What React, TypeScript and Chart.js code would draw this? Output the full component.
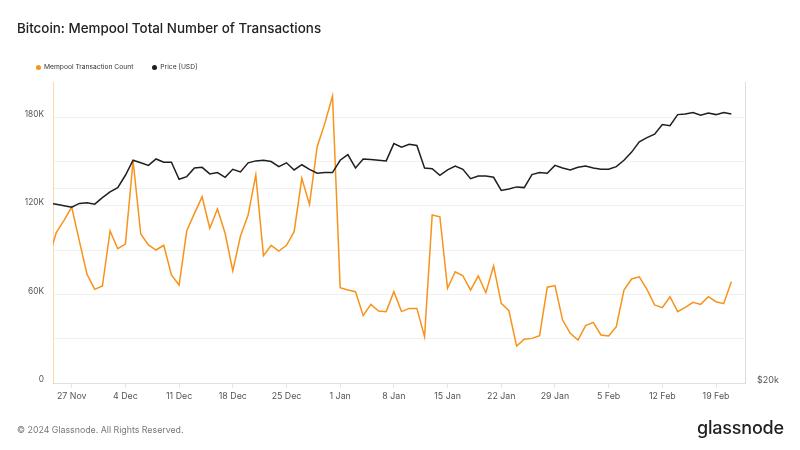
import React, { useEffect, useRef } from "react";
import { Chart, registerables } from "chart.js";

Chart.register(...registerables);

const dates: string[] = [
  "2023-11-24", "2023-11-25", "2023-11-26", "2023-11-27", "2023-11-28", "2023-11-29", "2023-11-30",
  "2023-12-01", "2023-12-02", "2023-12-03", "2023-12-04", "2023-12-05", "2023-12-06", "2023-12-07",
  "2023-12-08", "2023-12-09", "2023-12-10", "2023-12-11", "2023-12-12", "2023-12-13", "2023-12-14",
  "2023-12-15", "2023-12-16", "2023-12-17", "2023-12-18", "2023-12-19", "2023-12-20", "2023-12-21",
  "2023-12-22", "2023-12-23", "2023-12-24", "2023-12-25", "2023-12-26", "2023-12-27", "2023-12-28",
  "2023-12-29", "2023-12-30", "2023-12-31",
  "2024-01-01", "2024-01-02", "2024-01-03", "2024-01-04", "2024-01-05", "2024-01-06", "2024-01-07",
  "2024-01-08", "2024-01-09", "2024-01-10", "2024-01-11", "2024-01-12", "2024-01-13", "2024-01-14",
  "2024-01-15", "2024-01-16", "2024-01-17", "2024-01-18", "2024-01-19", "2024-01-20", "2024-01-21",
  "2024-01-22", "2024-01-23", "2024-01-24", "2024-01-25", "2024-01-26", "2024-01-27", "2024-01-28",
  "2024-01-29", "2024-01-30", "2024-01-31",
  "2024-02-01", "2024-02-02", "2024-02-03", "2024-02-04", "2024-02-05", "2024-02-06", "2024-02-07",
  "2024-02-08", "2024-02-09", "2024-02-10", "2024-02-11", "2024-02-12", "2024-02-13", "2024-02-14",
  "2024-02-15", "2024-02-16", "2024-02-17", "2024-02-18", "2024-02-19", "2024-02-20", "2024-02-21",
];

// Mempool transaction count (thousands)
const mempoolCountK: number[] = [
  85, 102, 110, 119, 96, 73.5, 63.4,
  65.6, 102.9, 90.9, 94, 150.4, 100.8, 93.4,
  90, 93.2, 73.1, 66.3, 103, 114.8, 126,
  104.7, 117.7, 101.3, 75.8, 99.5, 113.7, 140.8,
  86.2, 93.2, 89.3, 93.2, 102.4, 138.5, 120.9,
  159.9, 175.7, 194.2,
  64.5, 62.9, 61.8, 45.6, 53.2, 48.7, 48.3,
  61.8, 48.3, 50.5, 50.5, 31.3, 113.7, 112.5,
  64.1, 75.3, 72.6, 62.9, 72.4, 61.1, 79.2,
  53.9, 48.9, 25, 29.6, 30.2, 32, 64.8,
  65.9, 42.6, 33.6,
  29.1, 38.8, 41, 32.5, 31.8, 38.1, 62.9,
  70.4, 71.9, 63.4, 52.8, 51, 58.4, 48.3,
  51.2, 54.6, 53.2, 58.4, 55, 53.7, 68.6,
];

// BTC price (thousands USD)
const priceK: number[] = [
  37.9, 37.8, 37.6, 37.4, 37.9, 38.0, 37.8,
  38.7, 39.5, 40.1, 41.9, 44.2, 43.8, 43.4,
  44.4, 43.9, 43.9, 41.3, 41.7, 43.0, 43.1,
  42.1, 42.3, 41.6, 42.8, 42.4, 43.8, 44.1,
  44.2, 44.0, 43.2, 43.8, 42.7, 43.5, 42.8,
  42.2, 42.3, 42.3,
  44.2, 45.1, 43.0, 44.4, 44.3, 44.2, 44.1,
  46.9, 46.3, 46.8, 46.6, 43.0, 42.9, 41.9,
  42.7, 43.3, 42.8, 41.4, 41.8, 41.8, 41.6,
  39.7, 39.9, 40.2, 40.1, 42.0, 42.3, 42.2,
  43.4, 43.0, 42.7,
  43.1, 43.3, 43.0, 42.8, 42.8, 43.2, 44.2,
  45.5, 47.2, 47.9, 48.5, 50.2, 50.0, 52.0,
  52.1, 52.4, 51.9, 52.3, 52.0, 52.4, 52.1,
];

const xTickDates: string[] = [
  "2023-11-27", "2023-12-04", "2023-12-11", "2023-12-18", "2023-12-25", "2024-01-01", "2024-01-08",
  "2024-01-15", "2024-01-22", "2024-01-29", "2024-02-05", "2024-02-12", "2024-02-19",
];
const xTickLabels: string[] = [
  "27 Nov", "4 Dec", "11 Dec", "18 Dec", "25 Dec", "1 Jan", "8 Jan",
  "15 Jan", "22 Jan", "29 Jan", "5 Feb", "12 Feb", "19 Feb",
];
const leftTicks: number[] = [0, 30000, 60000, 90000, 120000, 150000, 180000];
const leftTickLabels: string[] = ["0", "", "60K", "", "120K", "", "180K"];
const rightTicks: number[] = [20000, 40000];
const rightTickLabels: string[] = ["$20k", ""];

const DAY = 86400000;
const ORIGIN = Date.UTC(2023, 10, 27);
const dayIndex = (s: string) => {
  const [y, m, d] = s.split("-").map(Number);
  return (Date.UTC(y, m - 1, d) - ORIGIN) / DAY;
};

const ORANGE = "#f7931a";
const FONT = "Inter, 'Noto Sans', sans-serif";

export default function App() {
  const ref = useRef<HTMLCanvasElement | null>(null);

  useEffect(() => {
    if (!ref.current) return;
    const countData = dates.map((d, i) => ({ x: dayIndex(d), y: mempoolCountK[i] * 1000 }));
    const priceData = dates.map((d, i) => ({ x: dayIndex(d), y: priceK[i] * 1000 }));
    const tickPos = xTickDates.map(dayIndex);

    const chart = new Chart(ref.current, {
      type: "line",
      data: {
        datasets: [
          {
            label: "Mempool Transaction Count",
            data: countData,
            borderColor: ORANGE,
            backgroundColor: ORANGE,
            borderWidth: 1.5,
            pointRadius: 0,
            tension: 0,
            yAxisID: "y",
            order: 2,
          },
          {
            label: "Price [USD]",
            data: priceData,
            borderColor: "#1f1f1f",
            backgroundColor: "#1f1f1f",
            borderWidth: 1.5,
            pointRadius: 0,
            tension: 0,
            yAxisID: "y1",
            order: 1,
          },
        ],
      },
      options: {
        responsive: false,
        animation: false,
        layout: { padding: { top: 82, left: 0, right: 0, bottom: 0 } },
        plugins: {
          legend: { display: false },
          tooltip: { enabled: false },
          title: { display: false },
        },
        scales: {
          x: {
            type: "linear",
            min: -2.44,
            max: 87.78,
            afterBuildTicks: (scale: any) => {
              scale.ticks = tickPos.map((v) => ({ value: v }));
            },
            afterFit: (scale: any) => {
              scale.height = 67;
            },
            grid: {
              display: true,
              drawOnChartArea: false,
              drawTicks: true,
              tickLength: 5,
              color: "#e6e6e6",
            },
            border: { display: true, color: "#e0e0e0" },
            ticks: {
              autoSkip: false,
              maxRotation: 0,
              padding: 3,
              color: "#555",
              font: { family: FONT, size: 8.8 },
              callback: (value: any) => {
                const idx = tickPos.indexOf(Number(value));
                return idx >= 0 ? xTickLabels[idx] : "";
              },
            },
          },
          y: {
            type: "linear",
            position: "left",
            min: 0,
            max: 203700,
            afterBuildTicks: (scale: any) => {
              scale.ticks = leftTicks.map((v) => ({ value: v }));
            },
            afterFit: (scale: any) => {
              scale.width = 53;
            },
            grid: { color: "#f0f0f0", drawTicks: false },
            border: { display: true, color: "rgba(247,147,26,0.35)" },
            ticks: {
              padding: 9,
              labelOffset: -3,
              color: "#555",
              font: { family: FONT, size: 8.3 },
              callback: (value: any) => {
                const idx = leftTicks.indexOf(Number(value));
                return idx >= 0 ? leftTickLabels[idx] : "";
              },
            },
          },
          y1: {
            type: "logarithmic",
            position: "right",
            min: 20000,
            max: 58400,
            afterBuildTicks: (scale: any) => {
              scale.ticks = rightTicks.map((v) => ({ value: v }));
            },
            afterFit: (scale: any) => {
              scale.width = 55;
            },
            grid: { color: "#f0f0f0", drawTicks: false },
            border: { display: true, color: "#dddddd" },
            ticks: {
              padding: 12,
              labelOffset: -3,
              color: "#555",
              font: { family: FONT, size: 9 },
              callback: (value: any) => {
                const idx = rightTicks.indexOf(Number(value));
                return idx >= 0 ? rightTickLabels[idx] : "";
              },
            },
          },
        },
      } as any,
    });
    return () => chart.destroy();
  }, []);

  const dot = (c: string): React.CSSProperties => ({
    display: "inline-block",
    width: 5,
    height: 5,
    borderRadius: "50%",
    background: c,
    marginRight: 3,
    verticalAlign: "middle",
  });

  return (
    <div
      style={{
        position: "absolute",
        left: 0,
        top: 0,
        width: 800,
        height: 450,
        background: "#fff",
        fontFamily: FONT,
        overflow: "hidden",
      }}
    >
      <canvas ref={ref} width={800} height={450} style={{ position: "absolute", left: 0, top: 0, width: 800, height: 450 }} />
      <div style={{ position: "absolute", left: 17, top: 20, fontSize: 13.4, fontWeight: 500, color: "#222", whiteSpace: "nowrap" }}>
        Bitcoin: Mempool Total Number of Transactions
      </div>
      <div style={{ position: "absolute", left: 36, top: 62, fontSize: 6.7, color: "#333", whiteSpace: "nowrap", lineHeight: "10px" }}>
        <span style={dot(ORANGE)} />
        <span style={{ verticalAlign: "middle" }}>Mempool Transaction Count</span>
        <span style={{ display: "inline-block", width: 19 }} />
        <span style={dot("#1f1f1f")} />
        <span style={{ verticalAlign: "middle" }}>Price [USD]</span>
      </div>
      <div style={{ position: "absolute", left: 17, top: 424, fontSize: 8.8, color: "#777", whiteSpace: "nowrap" }}>
        © 2024 Glassnode. All Rights Reserved.
      </div>
      <div style={{ position: "absolute", left: 697, top: 417, fontSize: 18, fontWeight: 500, color: "#222", whiteSpace: "nowrap", letterSpacing: -0.2 }}>
        glassnode
      </div>
    </div>
  );
}
